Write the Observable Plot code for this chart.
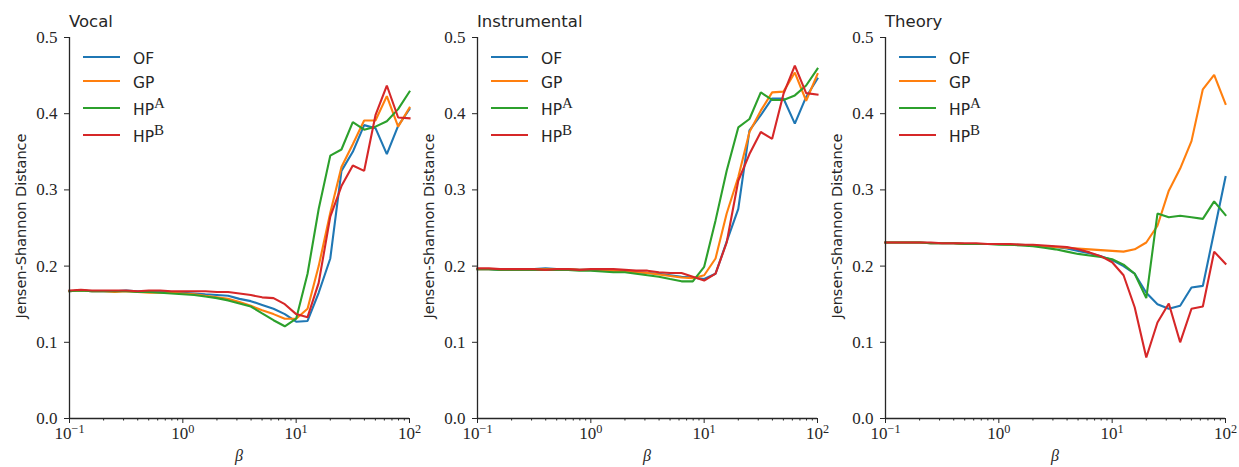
<!DOCTYPE html>
<html><head><meta charset="utf-8">
<script src="https://cdn.jsdelivr.net/npm/d3@7"></script>
<script src="https://cdn.jsdelivr.net/npm/@observablehq/plot@0.6"></script>
<style>
body{margin:0;background:#fff;}
#wrap{position:relative;width:1239px;height:467px;overflow:hidden;background:#fff;}
#wrap svg{position:absolute;top:0;}
</style></head><body><div id="wrap"></div>
<script>
const beta = [0.1,0.126,0.158,0.2,0.251,0.316,0.398,0.501,0.631,0.794,1,1.26,1.58,2,2.51,3.16,3.98,5.01,6.31,7.94,10,12.6,15.8,20,25.1,31.6,39.8,50.1,63.1,79.4,100];
const seriesNames = ["OF","GP","HPA","HPB"];
const seriesColors = ["#1f77b4","#ff7f0e","#2ca02c","#d62728"];
const legendMain = ["OF","GP","HP","HP"];
const legendSup = ["","","A","B"];
const panelTitles = ["Vocal","Instrumental","Theory"];

const vocalOF  = [0.167,0.168,0.167,0.167,0.167,0.168,0.167,0.166,0.166,0.166,0.165,0.164,0.163,0.162,0.161,0.157,0.154,0.149,0.144,0.137,0.127,0.128,0.165,0.21,0.325,0.35,0.385,0.381,0.347,0.384,0.406];
const vocalGP  = [0.167,0.168,0.167,0.167,0.166,0.167,0.166,0.165,0.165,0.165,0.164,0.163,0.161,0.159,0.157,0.153,0.148,0.142,0.137,0.131,0.131,0.144,0.2,0.27,0.33,0.36,0.391,0.391,0.423,0.383,0.408];
const vocalHPA = [0.167,0.168,0.167,0.167,0.167,0.167,0.166,0.166,0.165,0.164,0.163,0.162,0.16,0.158,0.155,0.151,0.147,0.138,0.129,0.121,0.131,0.19,0.275,0.345,0.353,0.389,0.379,0.383,0.39,0.406,0.429];
const vocalHPB = [0.168,0.169,0.168,0.168,0.168,0.168,0.167,0.168,0.168,0.167,0.167,0.167,0.167,0.166,0.166,0.164,0.162,0.159,0.158,0.15,0.137,0.133,0.178,0.265,0.305,0.332,0.325,0.398,0.437,0.395,0.394];

const instOF  = [0.196,0.196,0.195,0.195,0.196,0.196,0.197,0.196,0.196,0.195,0.195,0.194,0.194,0.193,0.192,0.191,0.19,0.188,0.186,0.185,0.183,0.19,0.232,0.275,0.378,0.398,0.42,0.42,0.387,0.422,0.446];
const instGP  = [0.196,0.196,0.196,0.196,0.196,0.196,0.196,0.196,0.196,0.195,0.195,0.195,0.194,0.193,0.192,0.191,0.189,0.187,0.185,0.184,0.188,0.21,0.269,0.317,0.376,0.404,0.428,0.429,0.454,0.417,0.452];
const instHPA = [0.196,0.196,0.195,0.195,0.195,0.195,0.195,0.195,0.195,0.194,0.194,0.193,0.192,0.192,0.19,0.188,0.186,0.183,0.18,0.18,0.199,0.26,0.325,0.382,0.393,0.428,0.418,0.418,0.424,0.437,0.459];
const instHPB = [0.197,0.197,0.196,0.196,0.196,0.196,0.195,0.196,0.196,0.195,0.196,0.196,0.196,0.195,0.194,0.194,0.192,0.191,0.191,0.186,0.181,0.19,0.231,0.312,0.347,0.376,0.367,0.426,0.463,0.427,0.425];

const theoOF  = [0.231,0.231,0.231,0.231,0.23,0.23,0.23,0.229,0.229,0.229,0.229,0.228,0.228,0.227,0.226,0.225,0.223,0.22,0.217,0.213,0.208,0.2,0.19,0.165,0.15,0.144,0.148,0.172,0.174,0.245,0.317];
const theoGP  = [0.231,0.231,0.231,0.231,0.23,0.23,0.23,0.229,0.229,0.229,0.229,0.228,0.228,0.227,0.226,0.225,0.224,0.223,0.222,0.221,0.22,0.219,0.222,0.231,0.253,0.299,0.328,0.364,0.432,0.451,0.413];
const theoHPA = [0.231,0.231,0.231,0.231,0.23,0.23,0.23,0.229,0.229,0.229,0.228,0.228,0.227,0.226,0.224,0.222,0.219,0.216,0.214,0.212,0.209,0.202,0.19,0.158,0.269,0.264,0.266,0.264,0.262,0.285,0.267];
const theoHPB = [0.231,0.231,0.231,0.231,0.231,0.23,0.23,0.23,0.23,0.229,0.229,0.229,0.228,0.228,0.227,0.226,0.225,0.222,0.218,0.213,0.205,0.188,0.146,0.08,0.126,0.151,0.1,0.144,0.147,0.219,0.203];

const yTicks = [0,0.1,0.2,0.3,0.4,0.5];
const xMajorTicks = [0.1,1,10,100];
const xTickExponents = ["\u22121","0","1","2"];
const xMinorTicks = [0.2,0.3,0.4,0.5,0.6,0.7,0.8,0.9,2,3,4,5,6,7,8,9,20,30,40,50,60,70,80,90];

const panelData = [
  [vocalOF, vocalGP, vocalHPA, vocalHPB],
  [instOF, instGP, instHPA, instHPB],
  [theoOF, theoGP, theoHPA, theoHPB]
];

const INK = "#262626";
const SANS = "DejaVu Sans";
const SERIF = "Liberation Serif";
const TICK_FS = 17;
const wrap = document.getElementById("wrap");

panelData.forEach((cols, p) => {
  const rows = [];
  seriesNames.forEach((s, k) => cols[k].forEach((v, i) => rows.push({beta: beta[i], value: v, series: s})));
  const svg = Plot.plot({
    width: 420, height: 467,
    marginLeft: 69, marginRight: 11, marginTop: 37, marginBottom: 49,
    style: {background: "transparent", overflow: "visible", color: INK},
    x: {type: "log", domain: [0.1, 100]},
    y: {domain: [0, 0.5]},
    color: {domain: seriesNames, range: seriesColors},
    marks: [
      Plot.axisY(yTicks, {tickSize: 5, tickPadding: 7, tickFormat: d3.format(".1f"), label: null, fontSize: TICK_FS, fontFamily: SERIF}),
      Plot.axisX(xMinorTicks, {tickSize: 2.5, tickFormat: () => "", label: null}),
      Plot.axisX(xMajorTicks, {tickSize: 5, tickPadding: 3, tickFormat: d => xTickExponents[xMajorTicks.indexOf(d)], label: null, fontSize: TICK_FS, fontFamily: SERIF}),
      Plot.line(rows, {x: "beta", y: "value", z: "series", stroke: "series", strokeWidth: 2.1, strokeLinejoin: "miter", strokeLinecap: "square"}),
      Plot.ruleX([0.1], {stroke: INK, strokeWidth: 1.3}),
      Plot.ruleY([0], {stroke: INK, strokeWidth: 1.3})
    ]
  });
  svg.style.left = (p * 408) + "px";
  wrap.appendChild(svg);
  const s = d3.select(svg);
  s.selectAll('g[aria-label="y-axis tick label"] text, g[aria-label="x-axis tick label"] text')
    .style("font-family", SERIF).style("font-size", TICK_FS + "px").attr("fill", INK);
  s.selectAll('g[aria-label="x-axis tick label"] text').each(function() {
    const e = this.textContent;
    if (!e) return;
    const t = d3.select(this);
    t.text(null);
    t.append("tspan").text("10");
    t.append("tspan").attr("dy", "-0.42em").style("font-size", "0.72em").text(e);
  });
  // title
  s.append("text").attr("x", 69).attr("y", 27).attr("text-anchor", "start").style("font-family", SANS).style("font-size", "16.5px").attr("fill", INK).text(panelTitles[p]);
  // y label
  s.append("text").attr("transform", "translate(26,226) rotate(-90)").attr("text-anchor", "middle")
    .style("font-family", SANS).style("font-size", "14.5px").attr("fill", INK).text("Jensen-Shannon Distance");
  // x label
  s.append("text").attr("x", 239).attr("y", 461).attr("text-anchor", "middle")
    .style("font-family", SERIF).style("font-style", "italic").style("font-size", "16px").attr("fill", INK).text("\u03b2");
  // legend
  const legendY = [57, 81, 108, 135];
  const lg = s.append("g").attr("text-anchor", "start");
  seriesNames.forEach((name, k) => {
    lg.append("line").attr("x1", 83).attr("x2", 120).attr("y1", legendY[k]).attr("y2", legendY[k])
      .attr("stroke", seriesColors[k]).attr("stroke-width", 2.1);
    const t = lg.append("text").attr("x", 133).attr("y", legendY[k] + 6.5).attr("text-anchor", "start")
      .style("font-family", SANS).style("font-size", "15.5px").attr("fill", INK);
    t.append("tspan").text(legendMain[k]);
    if (legendSup[k]) t.append("tspan").style("font-family", SERIF).style("font-size", "15px").attr("dy", -7).text(legendSup[k]);
  });
});
</script></body></html>
